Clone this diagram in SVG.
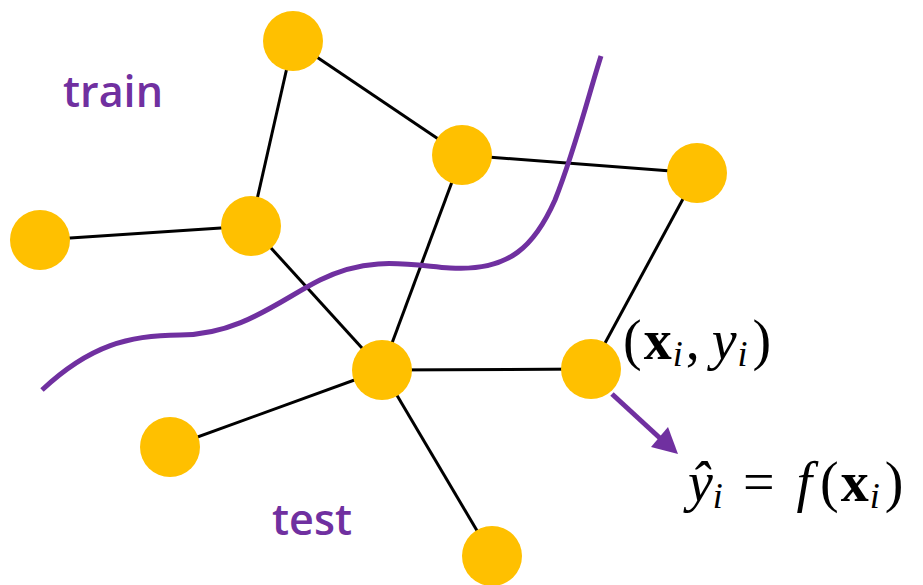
<svg xmlns="http://www.w3.org/2000/svg" width="923" height="585" viewBox="0 0 923 585">
<defs>
<style>
.edge{stroke:#000;stroke-width:3;fill:none}
.node{fill:#FFC000}
.lbl{font-family:"Open Sans","Liberation Sans",sans-serif;font-weight:600;fill:#7030A0;font-size:44px}
.math{font-family:"Liberation Serif","DejaVu Serif",serif;font-size:56px;fill:#000}
.sub{font-size:36px;font-style:italic}
</style>
</defs>
<rect width="923" height="585" fill="#fff"/>
<g id="connectors">
<line class="edge" x1="293" y1="41" x2="251" y2="226"/>
<line class="edge" x1="293" y1="41" x2="462" y2="155"/>
<line class="edge" x1="462" y1="155" x2="697" y2="173"/>
<line class="edge" x1="462" y1="155" x2="382" y2="370"/>
<line class="edge" x1="40" y1="240" x2="251" y2="226"/>
<line class="edge" x1="251" y1="226" x2="382" y2="370"/>
<line class="edge" x1="382" y1="370" x2="591" y2="369"/>
<line class="edge" x1="382" y1="370" x2="170" y2="447"/>
<line class="edge" x1="382" y1="370" x2="492" y2="556"/>
<line class="edge" x1="697" y1="173" x2="591" y2="369"/>
</g>
<path id="boundary" d="M42,390 C90,345 130,335 180,335 C240,335 280,300 320,280 C370,255 410,265 450,268 C510,272 535,245 555,200 C575,150 590,90 601,56" fill="none" stroke="#7030A0" stroke-width="5"/>
<g id="n1"><circle class="node" cx="293" cy="41" r="30"/></g>
<g id="n2"><circle class="node" cx="462" cy="155" r="30"/></g>
<g id="n3"><circle class="node" cx="697" cy="173" r="30"/></g>
<g id="n4"><circle class="node" cx="40" cy="240" r="30"/></g>
<g id="n5"><circle class="node" cx="251" cy="226" r="30"/></g>
<g id="n6"><circle class="node" cx="382" cy="370" r="30"/></g>
<g id="n7"><circle class="node" cx="591" cy="369" r="30"/></g>
<g id="n8"><circle class="node" cx="170" cy="447" r="30"/></g>
<g id="n9"><circle class="node" cx="492" cy="556" r="30"/></g>
<g id="arrow">
<line x1="612" y1="394" x2="662" y2="440" stroke="#7030A0" stroke-width="5"/>
<polygon points="678,454 651,447 668,427" fill="#7030A0"/>
</g>
<text class="lbl" x="63" y="107" textLength="100" lengthAdjust="spacingAndGlyphs">train</text>
<text class="lbl" x="272" y="535" textLength="80" lengthAdjust="spacingAndGlyphs">test</text>
<text class="math" x="623" y="359">(<tspan font-weight="bold" dx="2">x</tspan><tspan class="sub" dy="7" dx="1">i</tspan><tspan dy="-7" dx="3">,</tspan><tspan font-style="italic" dx="12">y</tspan><tspan class="sub" dy="7" dx="1">i</tspan><tspan dy="-7" dx="5">)</tspan></text>
<text class="math" x="688" y="501"><tspan font-style="italic">ŷ</tspan><tspan class="sub" dy="7">i</tspan><tspan dy="-7" dx="20">=</tspan><tspan font-style="italic" dx="22">f</tspan><tspan dx="8">(</tspan><tspan font-weight="bold" dx="2">x</tspan><tspan class="sub" dy="7" dx="1">i</tspan><tspan dy="-7" dx="5">)</tspan></text>
</svg>
